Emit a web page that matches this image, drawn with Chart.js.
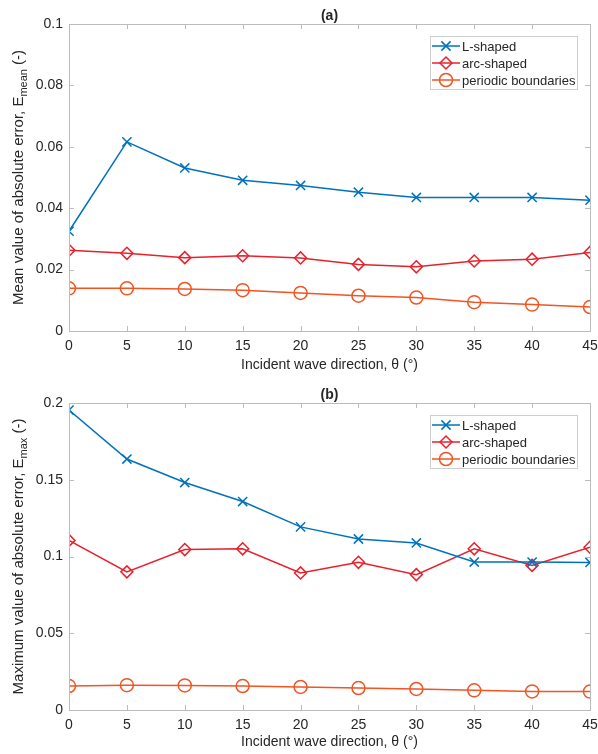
<!DOCTYPE html>
<html>
<head>
<meta charset="utf-8">
<script src="https://cdn.jsdelivr.net/npm/chart.js@4.4.1/dist/chart.umd.min.js"></script>
<style>
  html, body { margin: 0; padding: 0; background: #ffffff; }
  #wrap { position: relative; width: 598px; height: 754px; }
  .box { position: absolute; left: 0; width: 598px; height: 377px; }
</style>
</head>
<body>
<div id="wrap">
  <div class="box" style="top:0"><canvas id="cA" width="598" height="377"></canvas></div>
  <div class="box" style="top:377px"><canvas id="cB" width="598" height="377"></canvas></div>
</div>
<script>
// ---------- data ----------
const angles = [0, 5, 10, 15, 20, 25, 30, 35, 40, 45];
const seriesNames = ['L-shaped', 'arc-shaped', 'periodic boundaries'];

// (a) mean absolute error
const meanLShaped   = [0.0325, 0.0616, 0.0531, 0.0491, 0.0474, 0.0452, 0.0435, 0.0435, 0.0435, 0.0426];
const meanArcShaped = [0.0263, 0.0253, 0.0239, 0.0245, 0.0238, 0.0217, 0.0209, 0.0228, 0.0234, 0.0256];
const meanPeriodic  = [0.0139, 0.0139, 0.0137, 0.0133, 0.0124, 0.0115, 0.0109, 0.0094, 0.0086, 0.0078];

// (b) maximum absolute error
const maxLShaped    = [0.1954, 0.1635, 0.1482, 0.1358, 0.1193, 0.1114, 0.1088, 0.0964, 0.0964, 0.0961];
const maxArcShaped  = [0.1105, 0.0900, 0.1045, 0.1050, 0.0893, 0.0962, 0.0882, 0.1050, 0.0942, 0.1060];
const maxPeriodic   = [0.0156, 0.0162, 0.0160, 0.0156, 0.0150, 0.0143, 0.0137, 0.0128, 0.0121, 0.0120];

const xTicks  = [0, 5, 10, 15, 20, 25, 30, 35, 40, 45];
const yTicksA = [0, 0.02, 0.04, 0.06, 0.08, 0.1];
const yTicksB = [0, 0.05, 0.1, 0.15, 0.2];

const panelTitles = ['(a)', '(b)'];
const xTitle = 'Incident wave direction, \u03B8 (\u00B0)';
const yTitleA = ['Mean value of absolute error, E', 'mean', ' (-)'];
const yTitleB = ['Maximum value of absolute error, E', 'max', ' (-)'];

// ---------- styles ----------
const colors = ['#0072BD', '#E8212C', '#F05522'];
const styles = [
  { pointStyle: 'crossRot', radius: 6.5 },
  { pointStyle: 'rectRot', radius: 6 },
  { pointStyle: 'circle', radius: 6.5 }
];
const FONT = "'Liberation Sans', Arial, Helvetica, sans-serif";
const TXT = '#262626';
const AXIS = '#bcbcbc';

function makeDatasets(vals) {
  return vals.map((v, i) => ({
    label: seriesNames[i],
    data: angles.map((a, k) => ({ x: a, y: v[k] })),
    borderColor: colors[i],
    backgroundColor: 'rgba(0,0,0,0)',
    pointBorderColor: colors[i],
    pointBackgroundColor: 'rgba(0,0,0,0)',
    borderWidth: 1.5,
    pointBorderWidth: 1.5,
    pointStyle: styles[i].pointStyle,
    pointRadius: styles[i].radius,
    pointHoverRadius: styles[i].radius,
    tension: 0
  }));
}

function drawMarker(ctx, style, radius, x, y) {
  if (Chart.helpers && Chart.helpers.drawPoint) {
    Chart.helpers.drawPoint(ctx, { pointStyle: style, radius: radius, rotation: 0, borderWidth: 1.5 }, x, y);
  }
}

// plugin: box, inward ticks, title, y-title with subscript, legend
const decor = {
  id: 'decor',
  afterDraw(chart, args, opts) {
    const ctx = chart.ctx;
    const ca = chart.chartArea;
    const xs = chart.scales.x, ys = chart.scales.y;
    ctx.save();
    // box
    ctx.strokeStyle = AXIS;
    ctx.lineWidth = 1;
    ctx.strokeRect(Math.round(ca.left) + 0.5, Math.round(ca.top) + 0.5,
                   Math.round(ca.right - ca.left), Math.round(ca.bottom - ca.top));
    // inward ticks
    const tl = 5;
    ctx.beginPath();
    xs.ticks.forEach((t, i) => {
      const px = Math.round(xs.getPixelForTick(i)) + 0.5;
      ctx.moveTo(px, ca.bottom); ctx.lineTo(px, ca.bottom - tl);
      ctx.moveTo(px, ca.top); ctx.lineTo(px, ca.top + tl);
    });
    ys.ticks.forEach((t, i) => {
      const py = Math.round(ys.getPixelForTick(i)) + 0.5;
      ctx.moveTo(ca.left, py); ctx.lineTo(ca.left + tl, py);
      ctx.moveTo(ca.right, py); ctx.lineTo(ca.right - tl, py);
    });
    ctx.stroke();

    // panel title
    ctx.fillStyle = TXT;
    ctx.font = 'bold 14px ' + FONT;
    ctx.textAlign = 'center';
    ctx.textBaseline = 'middle';
    ctx.fillText(opts.title, (ca.left + ca.right) / 2, ca.top - 8);

    // y title with subscript
    const parts = opts.ytitle;
    const mainFont = '15px ' + FONT, subFont = '11px ' + FONT;
    ctx.font = mainFont; const w0 = ctx.measureText(parts[0]).width;
    ctx.font = subFont;  const w1 = ctx.measureText(parts[1]).width;
    ctx.font = mainFont; const w2 = ctx.measureText(parts[2]).width;
    const total = w0 + w1 + w2;
    ctx.translate(19, (ca.top + ca.bottom) / 2);
    ctx.rotate(-Math.PI / 2);
    ctx.textAlign = 'left';
    ctx.textBaseline = 'middle';
    let x0 = -total / 2;
    ctx.font = mainFont; ctx.fillText(parts[0], x0, 0); x0 += w0;
    ctx.font = subFont;  ctx.fillText(parts[1], x0, 5); x0 += w1;
    ctx.font = mainFont; ctx.fillText(parts[2], x0, 0);
    ctx.setTransform(1, 0, 0, 1, 0, 0);

    // legend
    const lx = ca.right - 160, ly = ca.top + 12, lw = 147, lh = 53;
    ctx.fillStyle = '#ffffff';
    ctx.fillRect(lx, ly, lw, lh);
    ctx.strokeStyle = '#cfcfcf';
    ctx.lineWidth = 1;
    ctx.strokeRect(Math.round(lx) + 0.5, Math.round(ly) + 0.5, lw, lh);
    chart.data.datasets.forEach((ds, i) => {
      const cy = ly + 10 + i * 17;
      ctx.strokeStyle = ds.borderColor;
      ctx.lineWidth = 1.5;
      ctx.beginPath();
      ctx.moveTo(lx + 2, cy); ctx.lineTo(lx + 30, cy);
      ctx.stroke();
      ctx.fillStyle = 'rgba(0,0,0,0)';
      drawMarker(ctx, ds.pointStyle, ds.pointRadius, lx + 16, cy);
      ctx.fillStyle = TXT;
      ctx.font = '13px ' + FONT;
      ctx.textAlign = 'left';
      ctx.textBaseline = 'middle';
      ctx.fillText(ds.label, lx + 32, cy + 1);
    });
    ctx.restore();
  }
};

function fmt(v) { return String(+(+v).toFixed(4)); }

function makeChart(id, vals, yTicks, yMax, title, ytitle, padTop, xAxisH) {
  return new Chart(document.getElementById(id), {
    type: 'line',
    data: { datasets: makeDatasets(vals) },
    options: {
      responsive: false,
      animation: false,
      events: [],
      layout: { padding: { left: 0, right: 6, top: padTop, bottom: 0 } },
      plugins: {
        legend: { display: false },
        tooltip: { enabled: false },
        decor: { title: title, ytitle: ytitle }
      },
      scales: {
        x: {
          type: 'linear', min: 0, max: 45,
          afterBuildTicks: s => { s.ticks = xTicks.map(v => ({ value: v })); },
          afterFit: s => { s.height = xAxisH; s.paddingRight = 0; s.paddingLeft = 0; },
          grid: { display: false, drawTicks: false },
          border: { display: false },
          ticks: { color: TXT, font: { family: FONT, size: 14 }, padding: 7, maxRotation: 0, autoSkip: false, callback: v => fmt(v) },
          title: { display: true, text: xTitle, color: TXT, font: { family: FONT, size: 14 }, padding: { top: 0, bottom: 3 } }
        },
        y: {
          type: 'linear', min: 0, max: yMax,
          afterBuildTicks: s => { s.ticks = yTicks.map(v => ({ value: v })); },
          afterFit: s => { s.width = 69; s.paddingTop = 0; s.paddingBottom = 0; },
          grid: { display: false, drawTicks: false },
          border: { display: false },
          ticks: { color: TXT, font: { family: FONT, size: 14 }, padding: 6, autoSkip: false, callback: v => fmt(v) }
        }
      }
    },
    plugins: [decor]
  });
}

makeChart('cA', [meanLShaped, meanArcShaped, meanPeriodic], yTicksA, 0.1, panelTitles[0], yTitleA, 24, 46);
makeChart('cB', [maxLShaped, maxArcShaped, maxPeriodic], yTicksB, 0.2, panelTitles[1], yTitleB, 26, 44);
</script>
</body>
</html>
